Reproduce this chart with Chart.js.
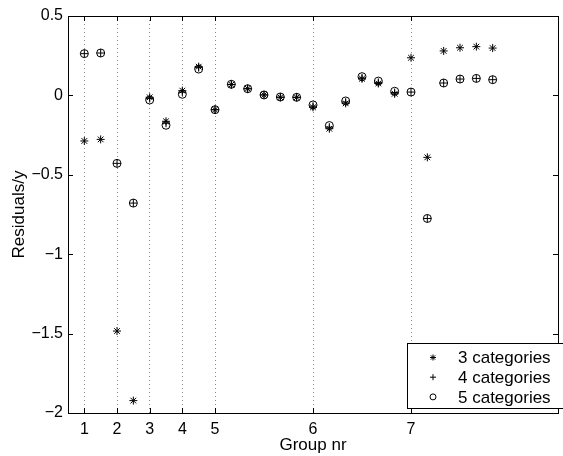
<!DOCTYPE html>
<html>
<head>
<meta charset="utf-8">
<script src="https://cdn.jsdelivr.net/npm/chart.js@4"></script>
<style>
  html, body { margin: 0; padding: 0; background: #fff; }
  #wrap { width: 563px; height: 456px; }
</style>
</head>
<body>
<div id="wrap"><canvas id="resid"></canvas></div>
<script>
// observation index within the series, and where each group starts
const obsIndex = [1, 2, 3, 4, 5, 6, 7, 8, 9, 10, 11, 12, 13, 14, 15, 16, 17, 18, 19, 20, 21, 22, 23, 24, 25, 26];
const groupStart = [1, 3, 5, 7, 9, 15, 21];
const groupLabels = ['1', '2', '3', '4', '5', '6', '7'];

const cat3 = [-0.287, -0.277, -1.484, -1.922, -0.012, -0.163, 0.03, 0.181, -0.09, 0.068, 0.042, 0.003, -0.012, -0.012,
              -0.075, -0.21, -0.05, 0.105, 0.075, 0.01, 0.237, -0.39, 0.28, 0.30, 0.307, 0.298];
const cat4 = [0.263, 0.267, -0.428, -0.678, -0.02, -0.175, 0.02, 0.175, -0.09, 0.069, 0.042, 0.003, -0.011, -0.012,
              -0.068, -0.2, -0.042, 0.11, 0.082, 0.018, 0.021, -0.775, 0.078, 0.103, 0.107, 0.099];
const cat5 = [0.263, 0.267, -0.428, -0.678, -0.029, -0.188, 0.007, 0.166, -0.09, 0.07, 0.042, 0.003, -0.01, -0.012,
              -0.06, -0.19, -0.035, 0.118, 0.09, 0.026, 0.021, -0.775, 0.078, 0.103, 0.107, 0.099];

const seriesLabels = ['3 categories', '4 categories', '5 categories'];
const FONT = '"Liberation Sans", Arial, Helvetica, sans-serif';

const pts = ys => obsIndex.map((x, i) => ({x: x, y: ys[i]}));

// box around the axes with ticks pointing inward, like matlab
const boxPlugin = {
    id: 'box',
    afterDraw(chart) {
        const {ctx, chartArea: a, scales} = chart;
        ctx.save();
        ctx.strokeStyle = '#000';
        ctx.lineWidth = 1;
        ctx.strokeRect(Math.round(a.left) + 0.5, Math.round(a.top) + 0.5,
                       Math.round(a.right - a.left), Math.round(a.bottom - a.top));
        const len = 5;
        ctx.beginPath();
        scales.x.ticks.forEach(t => {
            const px = Math.round(scales.x.getPixelForValue(t.value)) + 0.5;
            ctx.moveTo(px, a.bottom); ctx.lineTo(px, a.bottom - len);
            ctx.moveTo(px, a.top); ctx.lineTo(px, a.top + len);
        });
        scales.y.ticks.forEach(t => {
            const py = Math.round(scales.y.getPixelForValue(t.value)) + 0.5;
            ctx.moveTo(a.left, py); ctx.lineTo(a.left + len, py);
            ctx.moveTo(a.right, py); ctx.lineTo(a.right - len, py);
        });
        ctx.stroke();

        // legend in the lower right corner
        const bx = 407.5, by = 343.5, bw = 170, bh = 65;
        ctx.fillStyle = '#fff';
        ctx.fillRect(bx, by, bw, bh);
        ctx.strokeRect(bx, by, bw, bh);
        ctx.font = '17px ' + FONT;
        ctx.textBaseline = 'middle';
        ctx.textAlign = 'left';
        chart.data.datasets.forEach((ds, i) => {
            const cy = 357.5 + i * 19.7;
            ctx.strokeStyle = '#000';
            ctx.fillStyle = 'rgba(0,0,0,0)';
            ctx.lineWidth = 1;
            Chart.helpers.drawPoint(ctx, {pointStyle: ds.pointStyle, radius: 3, borderWidth: 1}, 433, cy);
            ctx.fillStyle = '#000';
            ctx.fillText(ds.label, 458, cy + 1);
        });
        ctx.restore();
    }
};

const common = {
    showLine: false,
    borderColor: '#000',
    backgroundColor: 'rgba(0,0,0,0)',
    borderWidth: 1,
    pointRadius: 4,
    pointHoverRadius: 4
};

new Chart(document.getElementById('resid'), {
    type: 'scatter',
    data: {
        datasets: [
            Object.assign({label: seriesLabels[0], data: pts(cat3), pointStyle: 'star'}, common),
            Object.assign({label: seriesLabels[1], data: pts(cat4), pointStyle: 'cross'}, common),
            Object.assign({label: seriesLabels[2], data: pts(cat5), pointStyle: 'circle', pointRadius: 4.3}, common)
        ]
    },
    options: {
        responsive: true,
        maintainAspectRatio: false,
        animation: false,
        layout: {padding: {top: 16, right: -9, left: 0, bottom: 0}},
        plugins: {legend: {display: false}, tooltip: {enabled: false}},
        scales: {
            x: {
                type: 'linear',
                min: 0,
                max: 30,
                afterBuildTicks: s => { s.ticks = groupStart.map(v => ({value: v})); },
                afterFit: s => { s.height = 43; },
                ticks: {
                    color: '#000',
                    font: {family: FONT, size: 16},
                    padding: 7,
                    maxRotation: 0,
                    autoSkip: false,
                    callback: v => groupLabels[groupStart.indexOf(v)]
                },
                grid: {
                    color: '#8c8c8c',
                    lineWidth: 1,
                    drawTicks: false
                },
                border: {display: false, dash: [1, 3]},
                title: {
                    display: true,
                    text: 'Group nr',
                    color: '#000',
                    font: {family: FONT, size: 17},
                    padding: {top: 0, bottom: 0}
                }
            },
            y: {
                min: -2,
                max: 0.5,
                afterFit: s => { s.width = 68; },
                ticks: {
                    stepSize: 0.5,
                    color: '#000',
                    font: {family: FONT, size: 16},
                    padding: 5,
                    callback: v => String(v).replace('-', '\u2212')
                },
                grid: {display: false, drawTicks: false},
                border: {display: false},
                title: {
                    display: true,
                    text: 'Residuals/y',
                    color: '#000',
                    font: {family: FONT, size: 17},
                    padding: {top: 9, bottom: 0}
                }
            }
        }
    },
    plugins: [boxPlugin]
});
</script>
</body>
</html>
